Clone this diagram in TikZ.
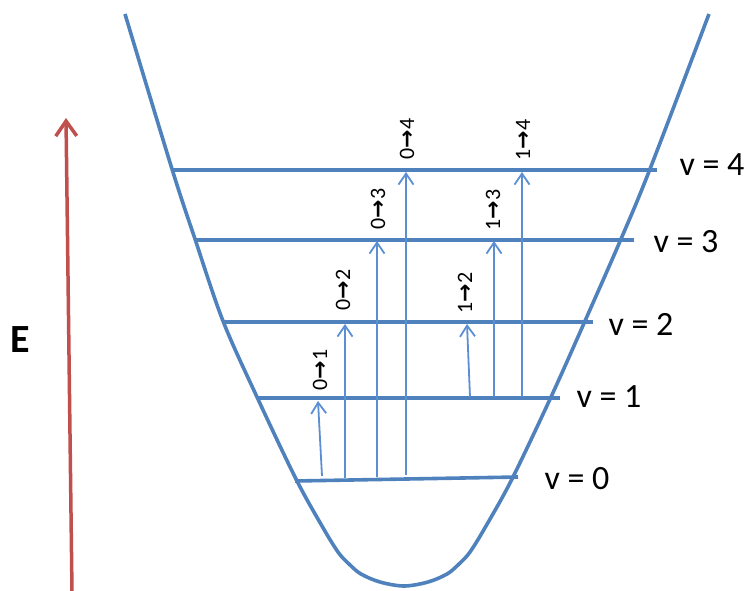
\documentclass[tikz,border=0pt]{standalone}
\usepackage{fontspec}
\setmainfont{Carlito}
\newfontfamily\arrfont{DejaVu Sans}
\usetikzlibrary{arrows.meta}
\definecolor{lvlblue}{HTML}{4F81BD}
\definecolor{trblue}{HTML}{5B8ED2}
\definecolor{ered}{HTML}{C0504D}
\tikzset{
  curveline/.style={draw=lvlblue, line width=3.6pt, line join=round},
  level/.style={draw=lvlblue, line width=3.6pt},
  trans/.style={draw=trblue, line width=1.8pt, -{Straight Barb[length=11pt,width=15pt,line width=1.8pt]}},
  translabel/.style={rotate=90, inner sep=0pt, font=\fontsize{22}{22}\selectfont},
  vlabel/.style={inner sep=0pt, font=\fontsize{34}{34}\selectfont},
  eaxis/.style={draw=ered, line width=3.5pt, -{Straight Barb[length=15pt,width=21pt,line width=3.5pt]}},
}
\newcommand{\tr}[2]{#1{\arrfont\bfseries →}#2}
\begin{document}
\begin{tikzpicture}[x=1pt,y=-1pt]
\useasboundingbox (0,0) rectangle (748,590);
% potential curve
\draw[curveline] plot[smooth, tension=0.55] coordinates {(125,14) (172,169) (195,239) (223,321) (257,397) (296,479) (322,526) (338,552) (349,564) (361,574) (380,582) (404,586) (428,582) (447,574) (459,564) (470,552) (486,526) (512,479) (551,397) (585,321) (621,239) (650,169) (709,14)};
% levels
\coordinate (l0a) at (295,481); \coordinate (l0b) at (518,477);
\coordinate (l1a) at (257,398); \coordinate (l1b) at (560,398);
\coordinate (l2a) at (223,322); \coordinate (l2b) at (593,322);
\coordinate (l3a) at (195,240); \coordinate (l3b) at (634,240);
\coordinate (l4a) at (172,170); \coordinate (l4b) at (657,170);
\draw[level] (l0a) -- (l0b);
\draw[level] (l1a) -- (l1b);
\draw[level] (l2a) -- (l2b);
\draw[level] (l3a) -- (l3b);
\draw[level] (l4a) -- (l4b);
% level labels
\node[vlabel] (v4) at (712,165) {v = 4};
\node[vlabel] (v3) at (686,242) {v = 3};
\node[vlabel] (v2) at (641,324) {v = 2};
\node[vlabel] (v1) at (609,397) {v = 1};
\node[vlabel] (v0) at (577,479) {v = 0};
% transitions
\coordinate (a01s) at (322,476); \coordinate (a01e) at (318,401);
\coordinate (a02s) at (345,478); \coordinate (a02e) at (345,324);
\coordinate (a03s) at (377,477); \coordinate (a03e) at (377,241);
\coordinate (a04s) at (406,475); \coordinate (a04e) at (406,172);
\coordinate (a12s) at (470,397); \coordinate (a12e) at (467,324);
\coordinate (a13s) at (494,397); \coordinate (a13e) at (494,241);
\coordinate (a14s) at (522,397); \coordinate (a14e) at (522,172);
\draw[trans] (a01s) -- (a01e);
\draw[trans] (a02s) -- (a02e);
\draw[trans] (a03s) -- (a03e);
\draw[trans] (a04s) -- (a04e);
\draw[trans] (a12s) -- (a12e);
\draw[trans] (a13s) -- (a13e);
\draw[trans] (a14s) -- (a14e);
% transition labels
\node[translabel] (t01) at (320,370) {\tr{0}{1}};
\node[translabel] (t02) at (343,290) {\tr{0}{2}};
\node[translabel] (t03) at (378,209) {\tr{0}{3}};
\node[translabel] (t04) at (407,139) {\tr{0}{4}};
\node[translabel] (t12) at (465,293) {\tr{1}{2}};
\node[translabel] (t13) at (493,210) {\tr{1}{3}};
\node[translabel] (t14) at (523,140) {\tr{1}{4}};
% energy axis
\coordinate (ebot) at (72,592);
\coordinate (etop) at (66,118);
\draw[eaxis] (ebot) -- (etop);
\node[inner sep=0pt, font=\fontsize{40}{40}\selectfont\bfseries] (E) at (20,340) {E};
\end{tikzpicture}
\end{document}
